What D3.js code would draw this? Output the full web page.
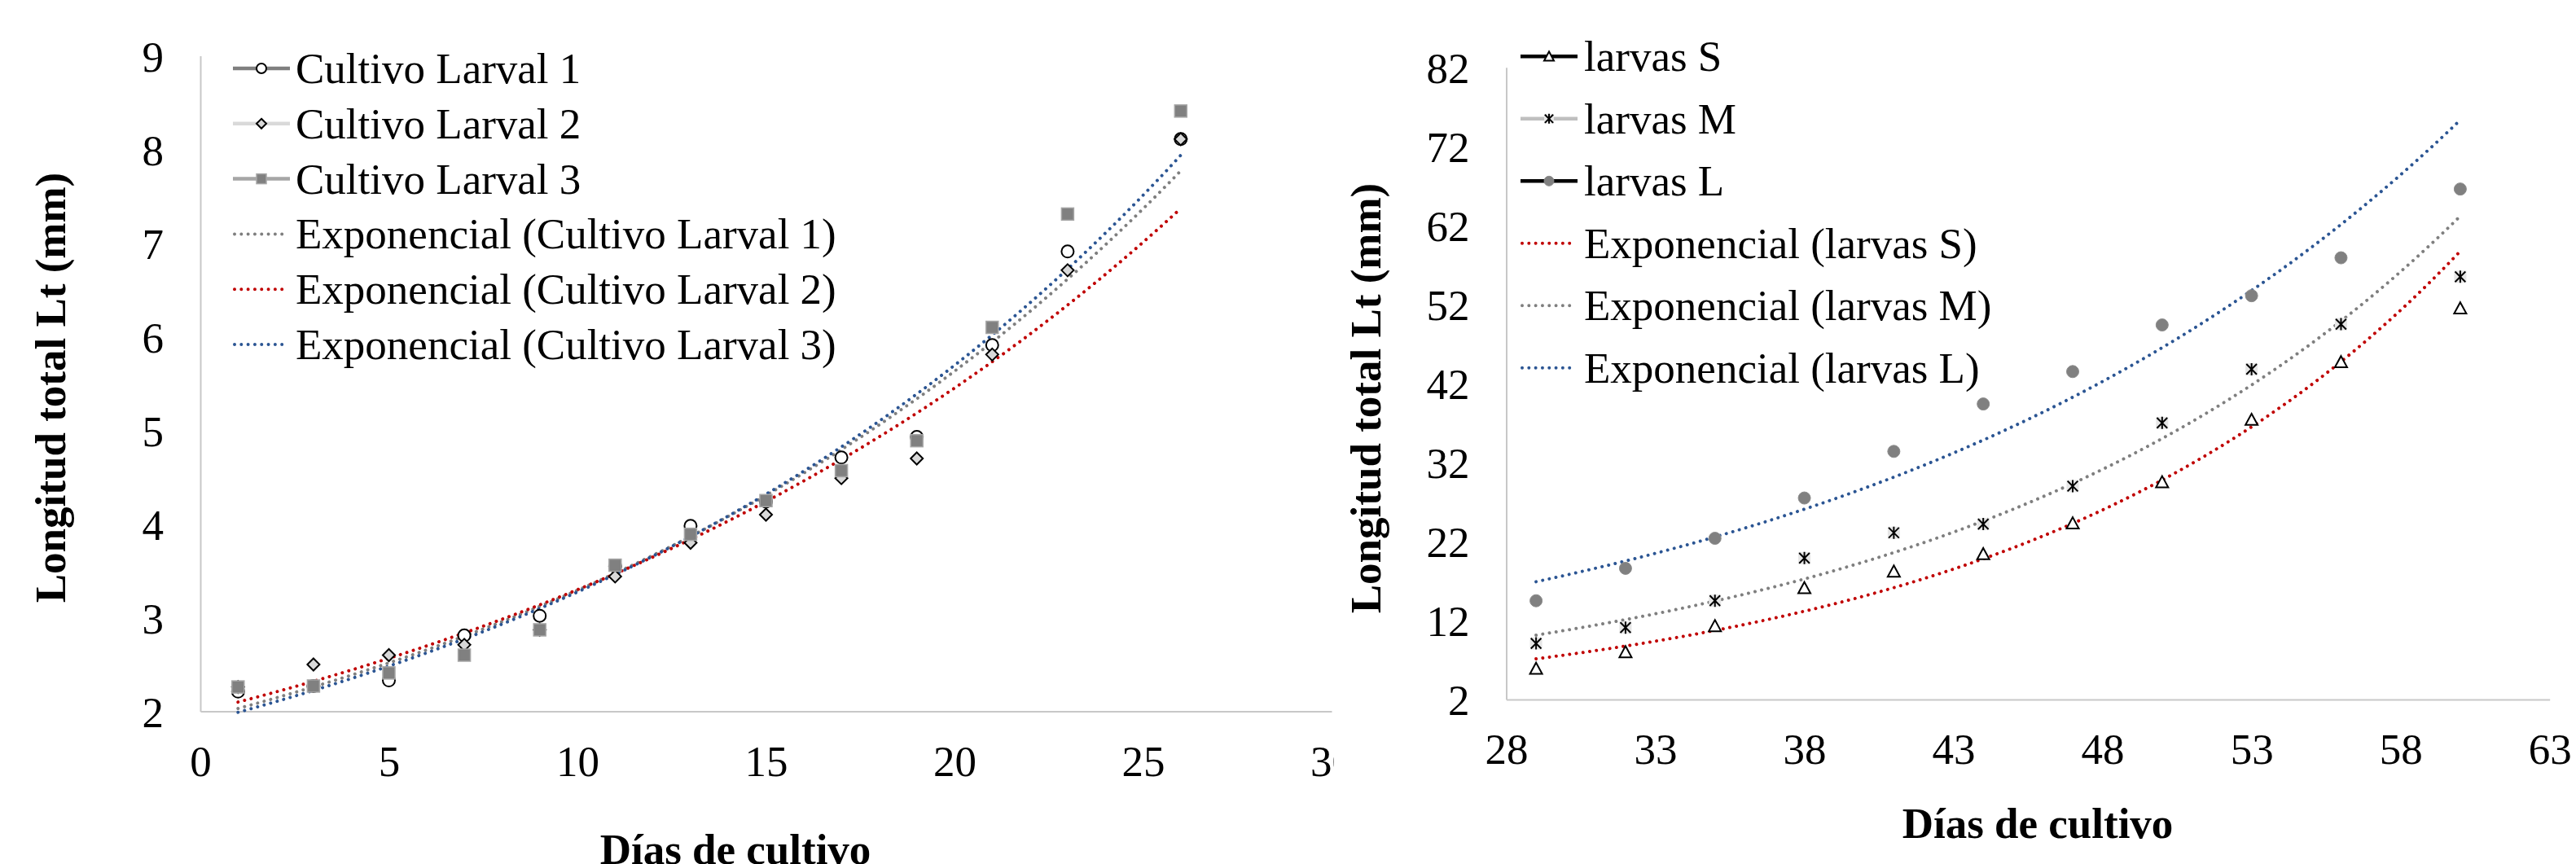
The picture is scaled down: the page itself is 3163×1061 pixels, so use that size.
<!DOCTYPE html>
<html>
<head>
<meta charset="utf-8">
<script src="https://cdn.jsdelivr.net/npm/d3@7"></script>
<style>
  html, body { margin: 0; padding: 0; background: #fff; }
  svg text { font-family: "Liberation Serif", "Times New Roman", Times, serif; fill: #000; }
</style>
</head>
<body>
<svg id="chart" width="3163" height="1061"></svg>
<script>
// ---------- DATA ----------
// Left chart
const diasA = [1, 3, 5, 7, 9, 11, 13, 15, 17, 19, 21, 23, 26];
const cultivo1 = [2.21, 2.27, 2.33, 2.81, 3.02, 3.55, 3.98, 4.24, 4.71, 4.93, 5.91, 6.91, 8.11];
const cultivo2 = [2.26, 2.50, 2.60, 2.71, 2.87, 3.44, 3.80, 4.10, 4.49, 4.70, 5.81, 6.71, 8.11];
const cultivo3 = [2.26, 2.27, 2.41, 2.60, 2.87, 3.56, 3.89, 4.25, 4.57, 4.89, 6.10, 7.31, 8.41];
const xTicksA = [0, 5, 10, 15, 20, 25, 30];
const yTicksA = [2, 3, 4, 5, 6, 7, 8, 9];
const legendA = ["Cultivo Larval 1", "Cultivo Larval 2", "Cultivo Larval 3",
  "Exponencial (Cultivo Larval 1)", "Exponencial (Cultivo Larval 2)", "Exponencial (Cultivo Larval 3)"];

// Right chart
const diasB = [29, 32, 35, 38, 41, 44, 47, 50, 53, 56, 60];
const larvasS = [5.9, 8.0, 11.3, 16.1, 18.2, 20.4, 24.3, 29.5, 37.4, 44.7, 51.5];
const larvasM = [9.1, 11.1, 14.5, 19.9, 23.1, 24.2, 29.0, 37.0, 43.8, 49.5, 55.5];
const larvasL = [14.5, 18.6, 22.4, 27.5, 33.4, 39.4, 43.5, 49.4, 53.1, 57.9, 66.6];
const xTicksB = [28, 33, 38, 43, 48, 53, 58, 63];
const yTicksB = [2, 12, 22, 32, 42, 52, 62, 72, 82];
const legendB = ["larvas S", "larvas M", "larvas L",
  "Exponencial (larvas S)", "Exponencial (larvas M)", "Exponencial (larvas L)"];

const yTitle = "Longitud total Lt (mm)";
const xTitle = "Días de cultivo";

// ---------- helpers ----------
const FS = 53;
const AXIS_COLOR = "#c8c8c8";
const RED = "#c00000", GRAY = "#7f7f7f", BLUE = "#2b5593";

function expFit(xs, ys) {   // least squares on ln(y), like a spreadsheet exponential trendline
  const n = xs.length;
  const ly = ys.map(Math.log);
  const mx = d3.mean(xs), my = d3.mean(ly);
  let sxy = 0, sxx = 0;
  for (let i = 0; i < n; i++) { sxy += (xs[i] - mx) * (ly[i] - my); sxx += (xs[i] - mx) ** 2; }
  const b = sxy / sxx, a = my - b * mx;
  return x => Math.exp(a + b * x);
}

function marker(g, type, cx, cy, s) {
  const h = s / 2;
  if (type === "circleW") {
    g.append("circle").attr("cx", cx).attr("cy", cy).attr("r", h)
      .attr("fill", "#fff").attr("stroke", "#000").attr("stroke-width", 2);
  } else if (type === "diamond") {
    g.append("path").attr("d", `M${cx},${cy - h}L${cx + h},${cy}L${cx},${cy + h}L${cx - h},${cy}Z`)
      .attr("fill", "#d9d9d9").attr("stroke", "#000").attr("stroke-width", 2);
  } else if (type === "square") {
    g.append("rect").attr("x", cx - h).attr("y", cy - h).attr("width", s).attr("height", s)
      .attr("fill", "#808080").attr("stroke", "#a6a6a6").attr("stroke-width", 1.5);
  } else if (type === "triangle") {
    g.append("path").attr("d", `M${cx},${cy - h}L${cx + h},${cy + h * 0.85}L${cx - h},${cy + h * 0.85}Z`)
      .attr("fill", "#fff").attr("stroke", "#000").attr("stroke-width", 2);
  } else if (type === "star") {
    g.append("rect").attr("x", cx - h).attr("y", cy - h).attr("width", s).attr("height", s)
      .attr("fill", "#e6e6e6");
    g.append("path").attr("d",
      `M${cx - h * 0.85},${cy - h * 0.85}L${cx + h * 0.85},${cy + h * 0.85}` +
      `M${cx + h * 0.85},${cy - h * 0.85}L${cx - h * 0.85},${cy + h * 0.85}` +
      `M${cx},${cy - h}L${cx},${cy + h}`)
      .attr("fill", "none").attr("stroke", "#000").attr("stroke-width", 2);
  } else if (type === "circleG") {
    g.append("circle").attr("cx", cx).attr("cy", cy).attr("r", h)
      .attr("fill", "#808080").attr("stroke", "#8c8c8c").attr("stroke-width", 1);
  }
}

const svg = d3.select("#chart");
const defs = svg.append("defs");

function drawChart(cfg) {
  const g = svg.append("g");
  if (cfg.clipRight) {
    defs.append("clipPath").attr("id", cfg.id + "clip")
      .append("rect").attr("x", cfg.clipLeft).attr("y", 0)
      .attr("width", cfg.clipRight - cfg.clipLeft).attr("height", 1061);
    g.attr("clip-path", `url(#${cfg.id}clip)`);
  }
  const x = d3.scaleLinear().domain(cfg.xDomain).range(cfg.xRange);
  const y = d3.scaleLinear().domain(cfg.yDomain).range(cfg.yRange);

  // axes
  const fmt = d3.format("d");
  const xAxis = d3.axisBottom(x).tickValues(cfg.xTicks).tickFormat(fmt).tickSize(0).tickPadding(0);
  const yAxis = d3.axisLeft(y).tickValues(cfg.yTicks).tickFormat(fmt).tickSize(0).tickPadding(0);
  const gx = g.append("g").attr("transform", `translate(0,${cfg.yRange[0]})`).call(xAxis);
  const gy = g.append("g").attr("transform", `translate(${cfg.xRange[0]},0)`).call(yAxis);
  [gx, gy].forEach(a => {
    a.select(".domain").attr("stroke", AXIS_COLOR).attr("stroke-width", 2);
    a.selectAll("text").attr("font-size", FS).attr("fill", "#000")
      .attr("font-family", '"Liberation Serif", "Times New Roman", serif');
  });
  gx.selectAll("text").attr("y", 79).attr("dy", 0);
  gy.selectAll("text").attr("x", -45).attr("dy", "0.35em");

  // trendlines
  const line = d3.line().x(d => x(d[0])).y(d => y(d[1]));
  cfg.series.forEach(s => {
    const f = expFit(cfg.xs, s.values);
    const x0 = d3.min(cfg.xs), x1 = d3.max(cfg.xs);
    const pts = d3.range(0, 201).map(i => { const xv = x0 + (x1 - x0) * i / 200; return [xv, f(xv)]; });
    g.append("path").datum(pts).attr("d", line).attr("fill", "none")
      .attr("stroke", s.trend).attr("stroke-width", 4).attr("stroke-linecap", "round")
      .attr("stroke-dasharray", "0.01 8.3");
  });

  // markers
  cfg.series.forEach(s => {
    const mg = g.append("g");
    s.values.forEach((v, i) => marker(mg, s.marker, x(cfg.xs[i]), y(v), 15));
  });

  // legend
  const lg = g.append("g");
  const L = cfg.legend;
  cfg.series.forEach((s, i) => {
    const cy = L.y0 + i * L.dy;
    lg.append("line").attr("x1", L.x0).attr("x2", L.x1).attr("y1", cy).attr("y2", cy)
      .attr("stroke", s.legLine).attr("stroke-width", 4.5);
    marker(lg, s.marker, (L.x0 + L.x1) / 2, cy, 12);
    lg.append("text").attr("x", L.tx).attr("y", cy + 18).attr("font-size", FS).text(cfg.names[i]);
  });
  cfg.series.forEach((s, i) => {
    const cy = L.y0 + (i + 3) * L.dy;
    lg.append("line").attr("x1", L.x0 + 2).attr("x2", L.x1 - 4).attr("y1", cy).attr("y2", cy)
      .attr("stroke", s.trend).attr("stroke-width", 4).attr("stroke-linecap", "round")
      .attr("stroke-dasharray", "0.01 8.3");
    lg.append("text").attr("x", L.tx).attr("y", cy + 18).attr("font-size", FS).text(cfg.names[i + 3]);
  });

  // titles
  g.append("text").attr("transform", `translate(${cfg.yTitleX},${cfg.yTitleY}) rotate(-90)`)
    .attr("text-anchor", "middle").attr("font-weight", "bold").attr("font-size", FS).text(yTitle);
  g.append("text").attr("x", cfg.xTitleX).attr("y", cfg.xTitleY)
    .attr("text-anchor", "middle").attr("font-weight", "bold").attr("font-size", FS).text(xTitle);
}

drawChart({
  id: "a",
  xs: diasA,
  xDomain: [0, 30], xRange: [246, 1635],
  yDomain: [2, 9], yRange: [873.5, 68.5],
  xTicks: xTicksA, yTicks: yTicksA,
  clipLeft: 0, clipRight: 1638,
  series: [
    { values: cultivo1, marker: "circleW", legLine: "#7f7f7f", trend: GRAY },
    { values: cultivo2, marker: "diamond", legLine: "#d9d9d9", trend: RED },
    { values: cultivo3, marker: "square", legLine: "#a6a6a6", trend: BLUE }
  ],
  names: legendA,
  legend: { x0: 286, x1: 356, tx: 363, y0: 84, dy: 67.8 },
  yTitleX: 80, yTitleY: 476,
  xTitleX: 903, xTitleY: 1061
});

drawChart({
  id: "b",
  xs: diasB,
  xDomain: [28, 63], xRange: [1849.5, 3130.7],
  yDomain: [2, 82], yRange: [859, 82.7],
  xTicks: xTicksB, yTicks: yTicksB,
  series: [
    { values: larvasS, marker: "triangle", legLine: "#000", trend: RED },
    { values: larvasM, marker: "star", legLine: "#bfbfbf", trend: GRAY },
    { values: larvasL, marker: "circleG", legLine: "#000", trend: BLUE }
  ],
  names: legendB,
  legend: { x0: 1867, x1: 1937, tx: 1945, y0: 69.3, dy: 76.5 },
  yTitleX: 1695, yTitleY: 489,
  xTitleX: 2502, xTitleY: 1029
});
</script>
</body>
</html>
